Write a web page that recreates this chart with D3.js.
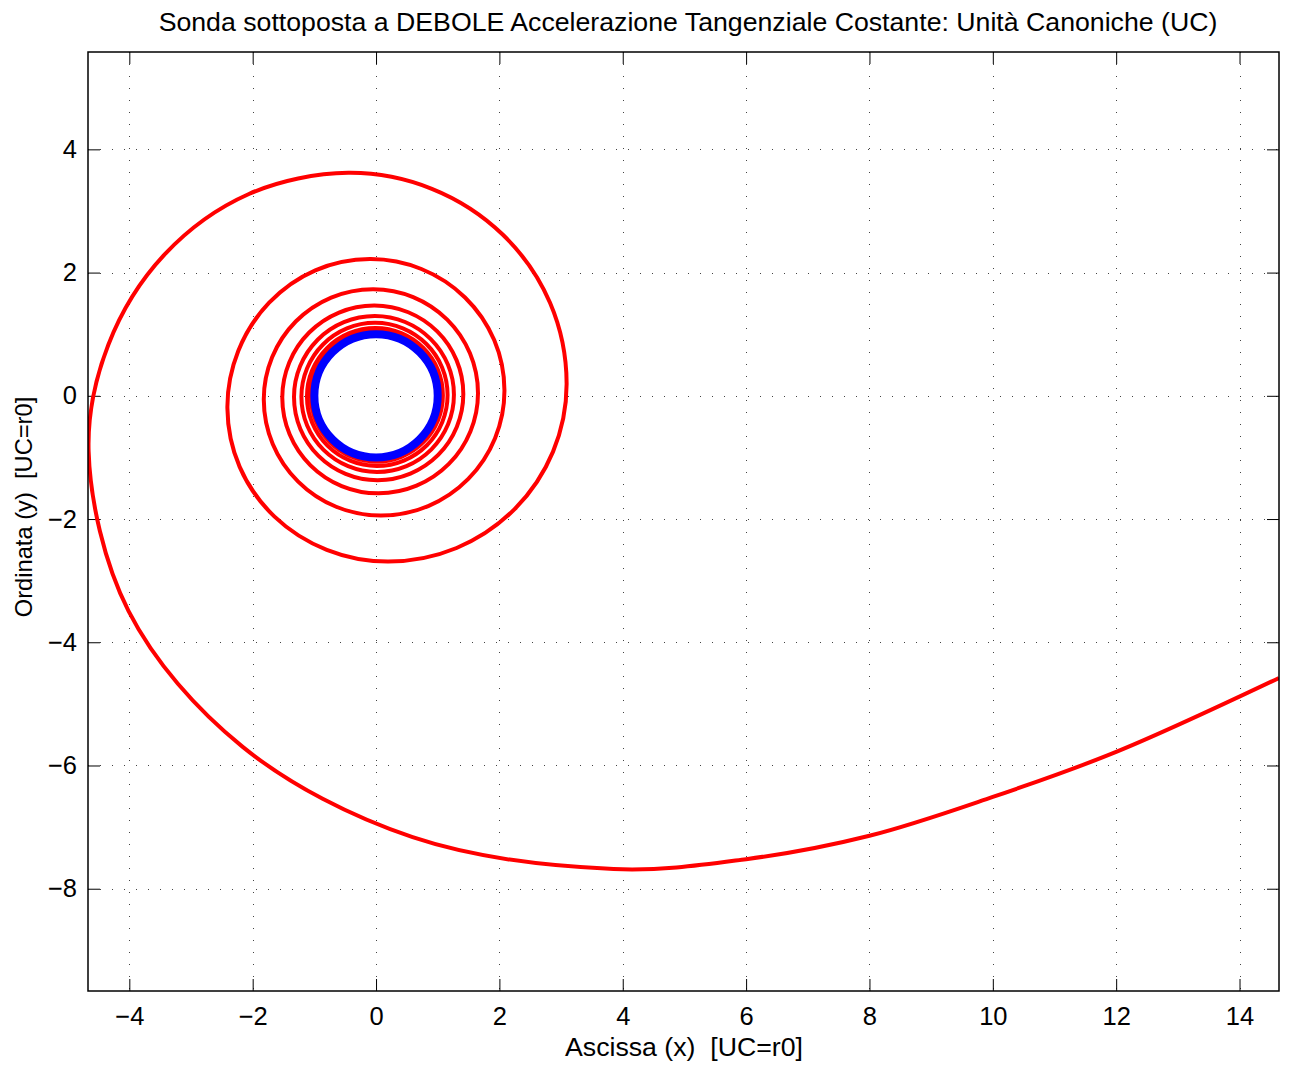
<!DOCTYPE html>
<html lang="it">
<head>
    <meta charset="UTF-8">
    <title>Sonda sottoposta a DEBOLE Accelerazione Tangenziale Costante</title>
    <script src="https://cdn.jsdelivr.net/npm/d3@7"></script>
    <style>
        body { margin: 0; background: #fff; }
        svg text { font-family: "Liberation Sans", Arial, Helvetica, sans-serif; fill: #000; }
        .tick text { font-size: 25.5px; }
        .tick line { stroke: #000; stroke-width: 1; }
        .grid-line { stroke: #444; stroke-width: 1; stroke-dasharray: 1, 11; }
        .frame { fill: none; stroke: #000; stroke-width: 1.5; }
        .chart-title, .axis-name { font-size: 26.7px; text-anchor: middle; }
        .y-name { font-size: 23.7px; }
    </style>
</head>
<body>
<script>
    // axis limits and tick values
    const xDomain = [-4.67, 14.64];
    const yDomain = [-9.66, 5.58];
    const xTicks = [-4, -2, 0, 2, 4, 6, 8, 10, 12, 14];
    const yTicks = [-8, -6, -4, -2, 0, 2, 4];

    // spiral trajectory (red), one row per quarter turn
    const spiralX = [1.000, 0.924, 0.706, 0.381,
        -0.003, -0.388, -0.715, -0.933,
        -1.010, -0.933, -0.712, -0.383,
        0.006, 0.398, 0.730, 0.952,
        1.030, 0.951, 0.726, 0.389,
        -0.008, -0.409, -0.748, -0.975,
        -1.055, -0.974, -0.743, -0.398,
        0.009, 0.420, 0.769, 1.002,
        1.084, 1.001, 0.764, 0.409,
        -0.010, -0.435, -0.795, -1.036,
        -1.120, -1.034, -0.788, -0.421,
        0.012, 0.451, 0.824, 1.073,
        1.160, 1.071, 0.816, 0.435,
        -0.015, -0.472, -0.860, -1.119,
        -1.210, -1.117, -0.851, -0.453,
        0.016, 0.493, 0.898, 1.168,
        1.263, 1.165, 0.887, 0.471,
        -0.020, -0.521, -0.946, -1.230,
        -1.330, -1.227, -0.933, -0.494,
        0.025, 0.557, 1.008, 1.309,
        1.415, 1.305, 0.992, 0.523,
        -0.030, -0.600, -1.084, -1.407,
        -1.520, -1.401, -1.063, -0.557,
        0.040, 0.657, 1.181, 1.530,
        1.653, 1.523, 1.154, 0.602,
        -0.050, -0.727, -1.302, -1.685,
        -1.820, -1.675, -1.263, -0.647,
        0.080, 0.846, 1.496, 1.930,
        2.082, 1.916, 1.443, 0.735,
        -0.100, -0.984, -1.733, -2.234,
        -2.410, -2.211, -1.646, -0.799,
        0.200, 1.306, 2.243, 2.870,
        3.090, 2.821, 2.053, 0.905,
        -0.450, -2.061, -3.427, -4.340,
        -4.660, -4.012, -2.167, 0.593,
        3.850, 6.000, 8.000, 10.000, 12.000, 14.640];
    const spiralY = [0, 0.385, 0.711, 0.929,
        1.005, 0.928, 0.709, 0.381,
        -0.006, -0.394, -0.723, -0.942,
        -1.020, -0.942, -0.719, -0.386,
        0.007, 0.403, 0.739, 0.963,
        1.042, 0.962, 0.734, 0.394,
        -0.008, -0.414, -0.758, -0.988,
        -1.069, -0.987, -0.753, -0.403,
        0.010, 0.428, 0.781, 1.018,
        1.101, 1.016, 0.775, 0.415,
        -0.011, -0.443, -0.809, -1.053,
        -1.139, -1.051, -0.802, -0.428,
        0.013, 0.461, 0.841, 1.095,
        1.184, 1.093, 0.833, 0.444,
        -0.015, -0.482, -0.878, -1.142,
        -1.235, -1.140, -0.868, -0.462,
        0.018, 0.507, 0.921, 1.198,
        1.295, 1.195, 0.910, 0.483,
        -0.020, -0.537, -0.975, -1.267,
        -1.370, -1.263, -0.960, -0.506,
        0.030, 0.579, 1.045, 1.356,
        1.465, 1.351, 1.027, 0.542,
        -0.030, -0.624, -1.128, -1.465,
        -1.583, -1.459, -1.106, -0.578,
        0.045, 0.690, 1.237, 1.603,
        1.731, 1.595, 1.206, 0.625,
        -0.060, -0.781, -1.392, -1.801,
        -1.944, -1.789, -1.348, -0.688,
        0.090, 0.905, 1.596, 2.058,
        2.220, 2.036, 1.511, 0.726,
        -0.200, -1.153, -1.961, -2.500,
        -2.690, -2.470, -1.843, -0.906,
        0.200, 1.509, 2.618, 3.360,
        3.620, 3.276, 2.296, 0.830,
        -0.900, -3.495, -5.694, -7.164,
        -7.680, -7.520, -7.140, -6.510, -5.780, -4.580];

    // initial circular orbit (blue)
    const parkingCenter = [0, 0];
    const parkingRadius = 1;

    const width = 1290, height = 1068;
    const plotLeft = 88, plotRight = 1279, plotTop = 52, plotBottom = 991;

    const svg = d3.select('body').append('svg')
        .attr('width', width)
        .attr('height', height);

    svg.append('rect')
        .attr('width', width)
        .attr('height', height)
        .attr('fill', '#fff');

    const x = d3.scaleLinear().domain(xDomain).range([plotLeft, plotRight]);
    const y = d3.scaleLinear().domain(yDomain).range([plotBottom, plotTop]);

    const fmt = d => d < 0 ? '\u2212' + Math.abs(d) : String(d);

    // dotted grid
    svg.append('g').selectAll('line')
        .data(xTicks)
        .enter().append('line')
        .attr('class', 'grid-line')
        .attr('x1', d => Math.round(x(d)) + 0.5)
        .attr('x2', d => Math.round(x(d)) + 0.5)
        .attr('y1', plotTop)
        .attr('y2', plotBottom);

    svg.append('g').selectAll('line')
        .data(yTicks)
        .enter().append('line')
        .attr('class', 'grid-line')
        .attr('y1', d => Math.round(y(d)) + 0.5)
        .attr('y2', d => Math.round(y(d)) + 0.5)
        .attr('x1', plotLeft)
        .attr('x2', plotRight);

    // axes with inward ticks on all four sides
    svg.append('g')
        .attr('transform', `translate(0,${plotBottom})`)
        .call(d3.axisBottom(x).tickValues(xTicks).tickSize(-12).tickSizeOuter(0)
            .tickPadding(16).tickFormat(fmt));
    svg.append('g')
        .attr('transform', `translate(0,${plotTop})`)
        .call(d3.axisTop(x).tickValues(xTicks).tickSize(-12).tickSizeOuter(0).tickFormat(''));
    svg.append('g')
        .attr('transform', `translate(${plotLeft},0)`)
        .call(d3.axisLeft(y).tickValues(yTicks).tickSize(-12).tickSizeOuter(0)
            .tickPadding(11).tickFormat(fmt));
    svg.append('g')
        .attr('transform', `translate(${plotRight},0)`)
        .call(d3.axisRight(y).tickValues(yTicks).tickSize(-12).tickSizeOuter(0).tickFormat(''));

    svg.selectAll('.domain').remove();

    // curves, clipped to the plot box
    svg.append('clipPath')
        .attr('id', 'plot-clip')
        .append('rect')
        .attr('x', plotLeft)
        .attr('y', plotTop)
        .attr('width', plotRight - plotLeft)
        .attr('height', plotBottom - plotTop);

    const plot = svg.append('g').attr('clip-path', 'url(#plot-clip)');

    const spiral = spiralX.map((v, i) => [v, spiralY[i]]);

    const line = d3.line()
        .x(d => x(d[0]))
        .y(d => y(d[1]))
        .curve(d3.curveCatmullRom.alpha(0.5));

    plot.append('path')
        .datum(spiral)
        .attr('fill', 'none')
        .attr('stroke', '#ff0000')
        .attr('stroke-width', 4)
        .attr('stroke-linejoin', 'round')
        .attr('d', line);

    plot.append('circle')
        .attr('cx', x(parkingCenter[0]))
        .attr('cy', y(parkingCenter[1]))
        .attr('r', x(parkingRadius) - x(0))
        .attr('fill', 'none')
        .attr('stroke', '#0000ff')
        .attr('stroke-width', 8);

    svg.append('rect')
        .attr('class', 'frame')
        .attr('x', plotLeft)
        .attr('y', plotTop)
        .attr('width', plotRight - plotLeft)
        .attr('height', plotBottom - plotTop);

    svg.append('text')
        .attr('class', 'chart-title')
        .attr('x', 688)
        .attr('y', 31)
        .text('Sonda sottoposta a DEBOLE Accelerazione Tangenziale Costante: Unità Canoniche (UC)');

    svg.append('text')
        .attr('class', 'axis-name')
        .attr('x', 684)
        .attr('y', 1056)
        .style('white-space', 'pre')
        .text('Ascissa (x)  [UC=r0]');

    svg.append('text')
        .attr('class', 'axis-name y-name')
        .attr('transform', 'translate(32,507) rotate(-90)')
        .style('white-space', 'pre')
        .text('Ordinata (y)  [UC=r0]');
</script>
</body>
</html>
